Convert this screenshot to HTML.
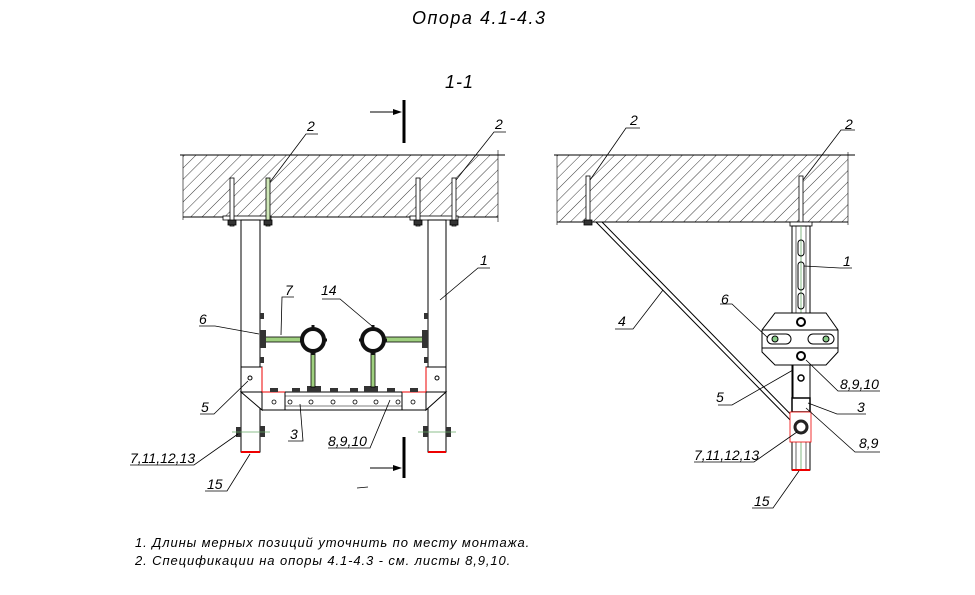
<!DOCTYPE html>
<html><head><meta charset="utf-8"><style>
body{margin:0;background:#fff;}
svg{display:block;}
text{font-family:"Liberation Sans",sans-serif;font-style:italic;fill:#000;}
</style></head><body>
<svg width="975" height="595" viewBox="0 0 975 595" xmlns="http://www.w3.org/2000/svg">
<defs>
<pattern id="h" width="8" height="8" patternUnits="userSpaceOnUse" patternTransform="rotate(45)">
<line x1="0" y1="0" x2="0" y2="8" stroke="#222" stroke-width="0.9"/>
</pattern>
</defs>
<text x="412" y="24" font-size="18" letter-spacing="1.5">Опора 4.1-4.3</text>
<text x="445" y="88" font-size="18" letter-spacing="1">1-1</text>

<rect x="183" y="155" width="315" height="62" fill="url(#h)" stroke="none"/>
<line x1="180" y1="155" x2="505" y2="155" stroke="#000"/>
<line x1="183" y1="217" x2="498" y2="217" stroke="#000"/>
<line x1="183" y1="155" x2="183" y2="220" stroke="#000" stroke-width="0.6"/>
<line x1="498" y1="150" x2="498" y2="222" stroke="#000" stroke-width="0.6"/>
<line x1="404" y1="100" x2="404" y2="143" stroke="#000" stroke-width="3"/>
<line x1="370" y1="112" x2="400" y2="112" stroke="#000"/><polygon points="402,112 393,109 393,115" fill="#000"/>
<line x1="404" y1="437" x2="404" y2="478" stroke="#000" stroke-width="3"/>
<line x1="370" y1="468" x2="400" y2="468" stroke="#000"/><polygon points="402,468 393,465 393,471" fill="#000"/>
<line x1="357" y1="488" x2="368" y2="487" stroke="#000" stroke-width="0.8"/>
<rect x="223" y="216" width="48" height="4" fill="#fff" stroke="#000" stroke-width="0.8"/>
<rect x="410" y="216" width="48" height="4" fill="#fff" stroke="#000" stroke-width="0.8"/>
<g stroke="#000" fill="#fff" stroke-width="0.8">
<rect x="230" y="178" width="4" height="48"/><rect x="266" y="178" width="4" height="48" fill="#cfe8b8"/>
<rect x="416" y="178" width="4" height="48"/><rect x="452" y="178" width="4" height="48"/>
<rect x="228" y="220" width="8" height="5" fill="#333"/><rect x="264" y="220" width="8" height="5" fill="#333"/>
<rect x="414" y="220" width="8" height="5" fill="#333"/><rect x="450" y="220" width="8" height="5" fill="#333"/>
</g>
<rect x="241" y="220" width="19" height="232" fill="#fff" stroke="#000"/>
<rect x="428" y="220" width="18" height="232" fill="#fff" stroke="#000"/>
<line x1="241" y1="452" x2="260" y2="452" stroke="#e00" stroke-width="2"/>
<line x1="428" y1="452" x2="446" y2="452" stroke="#e00" stroke-width="2"/>
<rect x="241" y="367" width="21" height="25" fill="#fff" stroke="#000"/><circle cx="250" cy="378" r="2" fill="none" stroke="#000"/>
<rect x="426" y="367" width="20" height="25" fill="#fff" stroke="#000"/><circle cx="437" cy="378" r="2" fill="none" stroke="#000"/>
<line x1="262" y1="367" x2="262" y2="392" stroke="#e00"/><line x1="426" y1="367" x2="426" y2="392" stroke="#e00"/>
<polygon points="241,392 262,392 262,410" fill="#fff" stroke="#000"/>
<polygon points="446,392 426,392 426,410" fill="#fff" stroke="#000"/>
<rect x="262" y="392" width="164" height="18" fill="#fff" stroke="#000"/>
<line x1="262" y1="396" x2="426" y2="396" stroke="#000" stroke-width="0.6"/>
<line x1="262" y1="406" x2="426" y2="406" stroke="#000" stroke-width="0.6"/>
<rect x="262" y="392" width="23" height="18" fill="#fff" stroke="#000"/><rect x="402" y="392" width="24" height="18" fill="#fff" stroke="#000"/>
<line x1="262" y1="392" x2="285" y2="392" stroke="#e00"/><line x1="402" y1="392" x2="426" y2="392" stroke="#e00"/>
<g fill="none" stroke="#000" stroke-width="0.8">
<circle cx="274" cy="402" r="2"/><circle cx="290" cy="402" r="2"/><circle cx="311" cy="402" r="2"/><circle cx="333" cy="402" r="2"/><circle cx="355" cy="402" r="2"/><circle cx="376" cy="402" r="2"/><circle cx="398" cy="402" r="2"/><circle cx="413" cy="402" r="2"/>
</g>
<g fill="#333"><rect x="270" y="388" width="8" height="4"/><rect x="292" y="388" width="8" height="4"/><rect x="330" y="388" width="8" height="4"/><rect x="350" y="388" width="8" height="4"/><rect x="387" y="388" width="8" height="4"/><rect x="410" y="388" width="8" height="4"/><rect x="307" y="386" width="14" height="6"/><rect x="364" y="386" width="14" height="6"/></g>
<g stroke="#000" fill="#9fd07f" stroke-width="0.8">
<rect x="265" y="337" width="37" height="5"/><rect x="384" y="337" width="41" height="5"/>
<rect x="311" y="350" width="4" height="37"/><rect x="371" y="350" width="4" height="37"/>
</g>
<rect x="260" y="330" width="6" height="18" fill="#333"/><rect x="422" y="330" width="6" height="18" fill="#333"/>
<g fill="#333"><rect x="260" y="313" width="4" height="6"/><rect x="260" y="357" width="4" height="6"/><rect x="424" y="313" width="4" height="6"/><rect x="424" y="357" width="4" height="6"/></g>
<circle cx="313" cy="340" r="11" fill="#fff" stroke="#111" stroke-width="4"/>
<circle cx="373" cy="340" r="11" fill="#fff" stroke="#111" stroke-width="4"/>
<g stroke="#111" stroke-width="3"><line x1="313" y1="325" x2="313" y2="330"/><line x1="313" y1="350" x2="313" y2="355"/><line x1="300" y1="340" x2="304" y2="340"/><line x1="322" y1="340" x2="327" y2="340"/>
<line x1="373" y1="325" x2="373" y2="330"/><line x1="373" y1="350" x2="373" y2="355"/><line x1="359" y1="340" x2="364" y2="340"/><line x1="382" y1="340" x2="387" y2="340"/></g>
<g fill="#333"><rect x="236" y="427" width="5" height="10"/><rect x="260" y="426" width="5" height="11"/><rect x="423" y="426" width="5" height="11"/><rect x="446" y="427" width="5" height="10"/></g>
<line x1="232" y1="432" x2="270" y2="432" stroke="#6a6" stroke-width="0.8"/><line x1="418" y1="432" x2="456" y2="432" stroke="#6a6" stroke-width="0.8"/>

<g stroke="#000" stroke-width="0.8" fill="none">
<polyline points="270,182 306,134 318,134"/>
<polyline points="456,180 494,132 506,132"/>
<polyline points="440,300 478,268 490,268"/>
<polyline points="281,335 282,297 294,297"/>
<polyline points="372,326 340,299 322,299"/>
<polyline points="259,334 215,326 199,326"/>
<polyline points="248,381 214,414 200,414"/>
<polyline points="300,404 303,441 288,441"/>
<polyline points="390,400 370,448 328,448"/>
<polyline points="238,434 194,465 130,465"/>
<polyline points="250,454 227,491 205,491"/>
</g>
<g font-size="14">
<text x="307" y="131">2</text><text x="495" y="129">2</text><text x="480" y="265">1</text>
<text x="285" y="295">7</text><text x="321" y="295">14</text><text x="199" y="324">6</text>
<text x="201" y="412">5</text><text x="290" y="439">3</text><text x="328" y="446">8,9,10</text>
<text x="130" y="463">7,11,12,13</text><text x="207" y="489">15</text>
</g>

<rect x="557" y="155" width="291" height="67" fill="url(#h)"/>
<line x1="554" y1="155" x2="855" y2="155" stroke="#000"/>
<line x1="557" y1="222" x2="848" y2="222" stroke="#000"/>
<line x1="557" y1="155" x2="557" y2="225" stroke="#000" stroke-width="0.6"/>
<line x1="848" y1="152" x2="848" y2="225" stroke="#000" stroke-width="0.6"/>
<g stroke="#000" fill="#fff" stroke-width="0.8">
<rect x="586" y="176" width="4" height="48"/><rect x="584" y="220" width="8" height="5" fill="#333"/>
<rect x="799" y="176" width="4" height="48"/><rect x="790" y="222" width="22" height="4"/>
</g>
<polygon points="596,222 602,222 806,430 800,430" fill="#fff" stroke="#000"/>
<rect x="792" y="226" width="18" height="244" fill="#fff" stroke="#000"/>
<line x1="796" y1="226" x2="796" y2="470" stroke="#000" stroke-width="0.6"/><line x1="806" y1="226" x2="806" y2="470" stroke="#000" stroke-width="0.6"/>
<line x1="801" y1="226" x2="801" y2="470" stroke="#6a6" stroke-width="0.8"/>
<rect x="798" y="240" width="6" height="16" rx="3" fill="none" stroke="#000"/><rect x="798" y="262" width="6" height="28" rx="3" fill="none" stroke="#000"/><rect x="798" y="293" width="6" height="16" rx="3" fill="none" stroke="#000"/>
<line x1="792" y1="470" x2="810" y2="470" stroke="#e00" stroke-width="2"/>
<polygon points="775,313 826,313 838,330 838,352 826,365 775,365 762,352 762,330" fill="#fff" stroke="#000"/>
<line x1="762" y1="330" x2="838" y2="330" stroke="#000"/><line x1="762" y1="348" x2="838" y2="348" stroke="#000"/>
<rect x="767" y="334" width="24" height="10" rx="5" fill="none" stroke="#000"/><rect x="808" y="334" width="26" height="10" rx="5" fill="none" stroke="#000"/>
<circle cx="775" cy="339" r="3" fill="#8c8" stroke="#000"/><circle cx="826" cy="339" r="3" fill="#8c8" stroke="#000"/>
<circle cx="801" cy="322" r="4" fill="#fff" stroke="#000" stroke-width="2"/><circle cx="801" cy="356" r="4" fill="#fff" stroke="#000" stroke-width="2"/>
<rect x="793" y="365" width="17" height="33" fill="#fff" stroke="#000"/><circle cx="801" cy="378" r="3" fill="none" stroke="#000" stroke-width="1.5"/>
<rect x="792" y="398" width="18" height="14" fill="#fff" stroke="#000" stroke-width="1.5"/>
<rect x="790" y="412" width="21" height="30" fill="#fff" stroke="#e00" stroke-width="0.8"/>
<circle cx="801" cy="427" r="6" fill="#fff" stroke="#222" stroke-width="3"/>
<g stroke="#000" stroke-width="0.8" fill="none">
<polyline points="590,180 626,128 640,128"/>
<polyline points="803,180 841,130 855,130"/>
<polyline points="804,266 840,268 852,268"/>
<polyline points="768,338 732,304 720,304"/>
<polyline points="663,290 633,329 615,329"/>
<polyline points="793,370 732,405 718,405"/>
<polyline points="806,360 838,391 880,391"/>
<polyline points="808,403 837,414 866,414"/>
<polyline points="806,408 855,452 880,452"/>
<polyline points="797,432 754,462 694,462"/>
<polyline points="799,471 773,508 752,508"/>
</g>
<g font-size="14">
<text x="630" y="125">2</text><text x="845" y="129">2</text><text x="843" y="266">1</text>
<text x="721" y="304">6</text><text x="618" y="326">4</text><text x="716" y="402">5</text>
<text x="840" y="389">8,9,10</text><text x="857" y="412">3</text><text x="859" y="448">8,9</text>
<text x="694" y="460">7,11,12,13</text><text x="754" y="506">15</text>
</g>

<text x="135" y="547" font-size="13" letter-spacing="0.9">1. Длины мерных позиций уточнить по месту монтажа.</text>
<text x="135" y="565" font-size="13" letter-spacing="0.9">2. Спецификации на опоры 4.1-4.3 - см. листы 8,9,10.</text>
</svg>
</body></html>
